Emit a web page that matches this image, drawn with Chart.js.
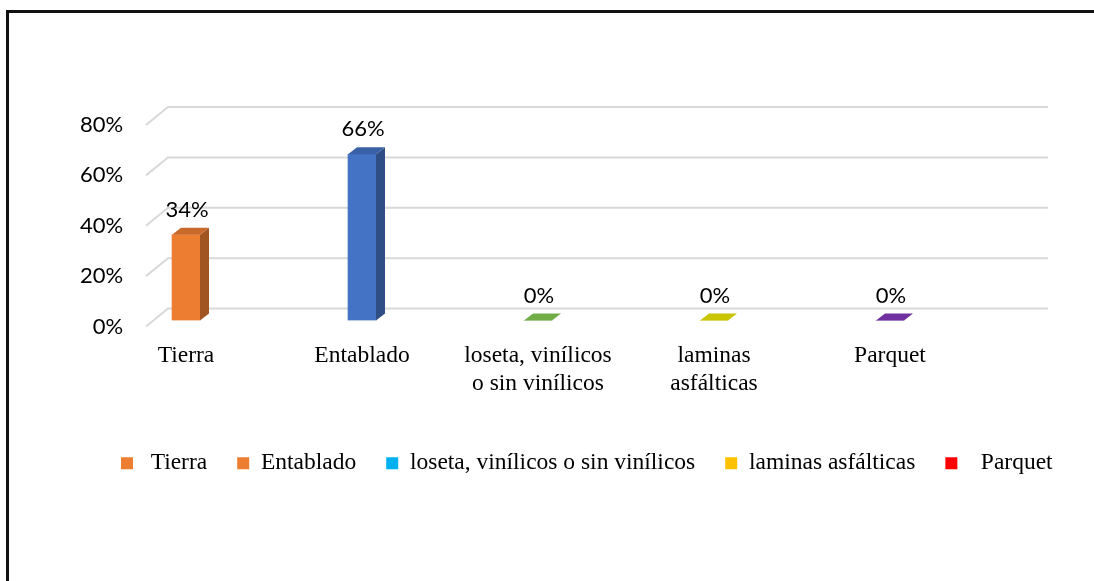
<!DOCTYPE html>
<html>
<head>
<meta charset="utf-8">
<script src="https://cdn.jsdelivr.net/npm/chart.js@4/dist/chart.umd.min.js"></script>
<style>
  html, body { margin: 0; padding: 0; background: #fff; overflow: hidden; }
  #wrap { position: relative; width: 1094px; height: 581px; }
  #frame { position: absolute; left: 6px; top: 10px; width: 1200px; height: 700px; border-top: 3px solid #111; border-left: 3px solid #111; }
  canvas { position: absolute; left: 0; top: 0; }
</style>
</head>
<body>
<div id="wrap">
  <canvas id="chart" width="1094" height="581"></canvas>
  <div id="frame"></div>
</div>
<script>
// Data
const categories = ['Tierra', 'Entablado', ['loseta, vinílicos', 'o sin vinílicos'], ['laminas', 'asfálticas'], 'Parquet'];
const values = [34, 66, 0, 0, 0];
const barColors = ['#ED7D31', '#4472C4', '#70AD47', '#C8C400', '#7030A0'];
const legendLabels = [' Tierra', 'Entablado', 'loseta, vinílicos o sin vinílicos', 'laminas asfálticas', '  Parquet'];
const legendColors = ['#ED7D31', '#ED7D31', '#00B0F0', '#FFC000', '#FF0000'];
const yTicks = [0, 20, 40, 60, 80];

const SANS = 'Lato, "Liberation Sans", sans-serif';
const SERIF = '"Liberation Serif", "Times New Roman", serif';
const DEPTH_X = 9, DEPTH_Y = 7, LIFT = 6;

function shade(hex, f) {
    const n = parseInt(hex.slice(1), 16);
    const r = Math.round(((n >> 16) & 255) * f);
    const g = Math.round(((n >> 8) & 255) * f);
    const b = Math.round((n & 255) * f);
    return `rgb(${r},${g},${b})`;
}

// 3D look: perspective gridlines, bar sides/tops and value labels
const bar3d = {
    id: 'bar3d',
    beforeDatasetsDraw(chart) {
        const ctx = chart.ctx;
        const y = chart.scales.y;
        const area = chart.chartArea;
        ctx.save();
        ctx.strokeStyle = '#D9D9D9';
        ctx.lineWidth = 2;
        yTicks.forEach(v => {
            const py = y.getPixelForValue(v);
            ctx.beginPath();
            ctx.moveTo(area.left + 48, py);
            ctx.lineTo(area.left + 70, py - 18);
            ctx.lineTo(area.right + 70, py - 18);
            ctx.stroke();
        });
        ctx.restore();
        ctx.save();
        ctx.translate(0, -LIFT);
    },
    afterDatasetsDraw(chart) {
        const ctx = chart.ctx;
        const meta = chart.getDatasetMeta(0);
        meta.data.forEach((bar, i) => {
            const half = bar.width / 2;
            const l = bar.x - half, r = bar.x + half;
            const top = bar.y, base = bar.base;
            const c = barColors[i];
            // side face
            if (base - top > 0.5) {
                ctx.fillStyle = shade(c, 0.68);
                ctx.beginPath();
                ctx.moveTo(r, top);
                ctx.lineTo(r + DEPTH_X, top - DEPTH_Y);
                ctx.lineTo(r + DEPTH_X, base - DEPTH_Y);
                ctx.lineTo(r, base);
                ctx.closePath();
                ctx.fill();
            }
            // top face
            ctx.fillStyle = base - top > 0.5 ? shade(c, 0.85) : c;
            ctx.beginPath();
            ctx.moveTo(l, top);
            ctx.lineTo(l + DEPTH_X, top - DEPTH_Y);
            ctx.lineTo(r + DEPTH_X, top - DEPTH_Y);
            ctx.lineTo(r, top);
            ctx.closePath();
            ctx.fill();
            // value label
            ctx.fillStyle = '#000';
            ctx.font = '22px ' + SANS;
            ctx.textAlign = 'center';
            ctx.textBaseline = 'middle';
            ctx.fillText(values[i] + '%', bar.x + 1, top - 25);
        });
        ctx.restore();
    }
};

new Chart(document.getElementById('chart'), {
    type: 'bar',
    data: {
        labels: categories,
        datasets: [{
            data: values,
            backgroundColor: barColors,
            borderWidth: 0,
            barThickness: 28
        }]
    },
    options: {
        responsive: false,
        animation: false,
        layout: { padding: { left: 91, right: 0, top: 125, bottom: 96 } },
        scales: {
            x: {
                grid: { display: false },
                border: { display: false },
                ticks: {
                    color: '#000',
                    font: { family: SERIF, size: 23.5 },
                    padding: 7,
                    maxRotation: 0,
                    autoSkip: false
                },
                afterFit(scale) { scale.height = 95; }
            },
            y: {
                min: 0,
                max: 80,
                grid: { display: false, drawTicks: false },
                border: { display: false },
                ticks: {
                    stepSize: 20,
                    color: '#000',
                    font: { family: SANS, size: 22 },
                    mirror: true,
                    crossAlign: 'far',
                    padding: -18,
                    callback: v => v + '%'
                },
                afterFit(scale) { scale.width = 7; }
            },
            // empty right-hand spacer so the plot ends where the reference does
            yRight: {
                position: 'right',
                grid: { display: false, drawTicks: false },
                border: { display: false },
                ticks: { display: false },
                afterFit(scale) { scale.width = 116; }
            }
        },
        plugins: {
            tooltip: { enabled: false },
            legend: {
                position: 'bottom',
                align: 'start',
                labels: {
                    color: '#000',
                    font: { family: SERIF, size: 23.5 },
                    boxWidth: 12,
                    boxHeight: 12,
                    padding: 30,
                    generateLabels: () => legendLabels.map((t, i) => ({
                        text: t,
                        fillStyle: legendColors[i],
                        strokeStyle: legendColors[i],
                        lineWidth: 0,
                        hidden: false,
                        index: i
                    }))
                }
            }
        }
    },
    plugins: [bar3d]
});
</script>
</body>
</html>
